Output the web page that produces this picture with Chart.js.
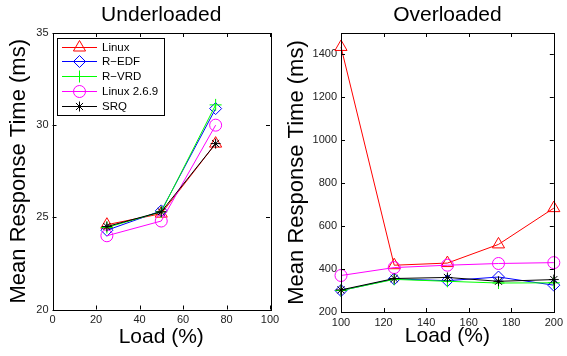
<!DOCTYPE html>
<html>
<head>
<meta charset="utf-8">
<script src="https://cdn.jsdelivr.net/npm/chart.js@4.4.0/dist/chart.umd.min.js"></script>
<style>
  html, body { margin:0; padding:0; background:#fff; }
  #wrap { position:relative; width:567px; height:356px; overflow:hidden; }
  canvas { position:absolute; top:0; }
</style>
</head>
<body>
<div id="wrap">
  <canvas id="under" width="285" height="356" style="left:0"></canvas>
  <canvas id="over" width="284" height="356" style="left:283px"></canvas>
</div>
<script>
// series names / look
const names = ['Linux', 'R\u2212EDF', 'R\u2212VRD', 'Linux 2.6.9', 'SRQ'];
const colors = ['#ff0000', '#0000ff', '#00ff00', '#ff00ff', '#000000'];
const markers = ['triangle', 'rectRot', 'cross', 'circle', 'star'];
const markerSize = [7, 6, 6, 6, 5];

// Underloaded
const loadUnder = [25, 50, 75];
const linuxUnder    = [24.6, 25.2, 29.0];
const redfUnder     = [24.3, 25.35, 30.9];
const rvrdUnder     = [24.45, 25.3, 31.1];
const linux269Under = [24.0, 24.8, 30.0];
const srqUnder      = [24.5, 25.3, 29.0];
const xTicksUnder = [0, 20, 40, 60, 80, 100];
const yTicksUnder = [20, 25, 30, 35];

// Overloaded
const loadOver = [100, 125, 150, 174, 200];
const linuxOver    = [1435, 418, 428, 515, 684];
const redfOver     = [300, 354, 346, 363, 325];
const rvrdOver     = [300, 352, 343, 335, 336];
const linux269Over = [370, 407, 418, 426, 430];
const srqOver      = [303, 356, 361, 343, 351];
const xTicksOver = [100, 120, 140, 160, 180, 200];
const yTicksOver = [200, 400, 600, 800, 1000, 1200, 1400];

Chart.defaults.font.family = '"Liberation Sans", Arial, Helvetica, sans-serif';
Chart.defaults.color = '#222';

function makeSets(xs, series) {
  return series.map((ys, i) => ({
    label: names[i],
    data: xs.map((x, j) => ({ x, y: ys[j] })),
    borderColor: colors[i],
    borderWidth: 1,
    pointStyle: markers[i],
    pointRadius: markerSize[i],
    pointBorderColor: colors[i],
    pointBackgroundColor: 'rgba(0,0,0,0)',
    pointBorderWidth: 1,
    fill: false,
    tension: 0,
    clip: false,
    order: series.length - i,
  }));
}

// box around the plot with inward ticks on all four sides
const frame = {
  id: 'frame',
  afterDatasetsDraw(chart) {
    const { ctx, chartArea: a, scales: { x, y } } = chart;
    const tl = 4;
    ctx.save();
    ctx.strokeStyle = '#000';
    ctx.lineWidth = 1;
    ctx.beginPath();
    x.ticks.forEach(t => {
      const px = Math.round(x.getPixelForValue(t.value)) + 0.5;
      ctx.moveTo(px, a.bottom); ctx.lineTo(px, a.bottom - tl);
      ctx.moveTo(px, a.top); ctx.lineTo(px, a.top + tl);
    });
    y.ticks.forEach(t => {
      const py = Math.round(y.getPixelForValue(t.value)) + 0.5;
      ctx.moveTo(a.left, py); ctx.lineTo(a.left + tl, py);
      ctx.moveTo(a.right, py); ctx.lineTo(a.right - tl, py);
    });
    ctx.stroke();
    ctx.strokeRect(Math.round(a.left) + 0.5, Math.round(a.top) + 0.5,
                   Math.round(a.right - a.left), Math.round(a.bottom - a.top));
    ctx.restore();
  }
};

// legend with line + marker sample, like the original figure
const legendBox = {
  id: 'legendBox',
  afterDraw(chart) {
    const { ctx } = chart;
    const bx = 57.5, by = 38.5, bw = 107, bh = 77;
    ctx.save();
    ctx.fillStyle = '#fff';
    ctx.fillRect(bx, by, bw, bh);
    ctx.strokeStyle = '#000';
    ctx.lineWidth = 1;
    ctx.strokeRect(bx, by, bw, bh);
    chart.data.datasets.forEach((ds, i) => {
      const cy = Math.round(46.5 + i * 14.8) + 0.5;
      ctx.strokeStyle = ds.borderColor;
      ctx.lineWidth = 1;
      ctx.beginPath();
      ctx.moveTo(62, cy); ctx.lineTo(97, cy);
      ctx.stroke();
      ctx.fillStyle = 'rgba(0,0,0,0)';
      Chart.helpers.drawPoint(ctx, { pointStyle: ds.pointStyle, radius: ds.pointRadius, rotation: 0, borderWidth: 1 }, 79.5, cy);
      ctx.fillStyle = '#000';
      ctx.font = '11.5px "Liberation Sans", Arial, sans-serif';
      ctx.textBaseline = 'middle';
      ctx.textAlign = 'left';
      ctx.fillText(ds.label, 102, cy);
    });
    ctx.restore();
  }
};

function makeChart(id, cfg) {
  const tickFont = { size: 11 };
  return new Chart(document.getElementById(id), {
    type: 'line',
    data: { datasets: makeSets(cfg.xs, cfg.series) },
    options: {
      responsive: false,
      animation: false,
      events: [],
      layout: { padding: { left: 0, right: cfg.padRight, top: 0, bottom: 0 } },
      plugins: {
        legend: { display: false },
        tooltip: { enabled: false },
        title: {
          display: true, text: cfg.title, fullSize: false, color: '#000',
          font: { size: 21, weight: 'normal' }, padding: { top: 3, bottom: 4.8 }
        }
      },
      scales: {
        x: {
          type: 'linear', min: cfg.xTicks[0], max: cfg.xTicks[cfg.xTicks.length - 1],
          afterBuildTicks: s => { s.ticks = cfg.xTicks.map(v => ({ value: v })); },
          afterFit: s => { s.height = cfg.xHeight; },
          grid: { display: false, drawTicks: false },
          border: { display: false },
          ticks: { font: tickFont, padding: 4, maxRotation: 0, autoSkip: false, callback: v => String(v) },
          title: { display: true, text: 'Load (%)', color: '#000', font: { size: 21 }, padding: { top: 0, bottom: cfg.xTitlePad } }
        },
        y: {
          type: 'linear', min: cfg.yMin, max: cfg.yMax,
          afterBuildTicks: s => { s.ticks = cfg.yTicks.map(v => ({ value: v })); },
          afterFit: s => { s.width = cfg.yWidth; },
          grid: { display: false, drawTicks: false },
          border: { display: false },
          ticks: { font: tickFont, padding: 4, autoSkip: false, callback: v => String(v) },
          title: { display: true, text: 'Mean Response Time (ms)', color: '#000', font: { size: 22 }, padding: { top: cfg.yTitlePad, bottom: 0 } }
        }
      }
    },
    plugins: cfg.plugins
  });
}

makeChart('under', {
  title: 'Underloaded',
  xs: loadUnder,
  series: [linuxUnder, redfUnder, rvrdUnder, linux269Under, srqUnder],
  xTicks: xTicksUnder, yTicks: yTicksUnder, yMin: 20, yMax: 35,
  padRight: 15, yWidth: 52.5, xHeight: 46.5, xTitlePad: 5.7, yTitlePad: 6.2,
  plugins: [frame, legendBox]
});

makeChart('over', {
  title: 'Overloaded',
  xs: loadOver,
  series: [linuxOver, redfOver, rvrdOver, linux269Over, srqOver],
  xTicks: xTicksOver, yTicks: yTicksOver, yMin: 200, yMax: 1500,
  padRight: 9, yWidth: 58, xHeight: 44, xTitlePad: 7.4, yTitlePad: 1.2,
  plugins: [frame]
});
</script>
</body>
</html>
